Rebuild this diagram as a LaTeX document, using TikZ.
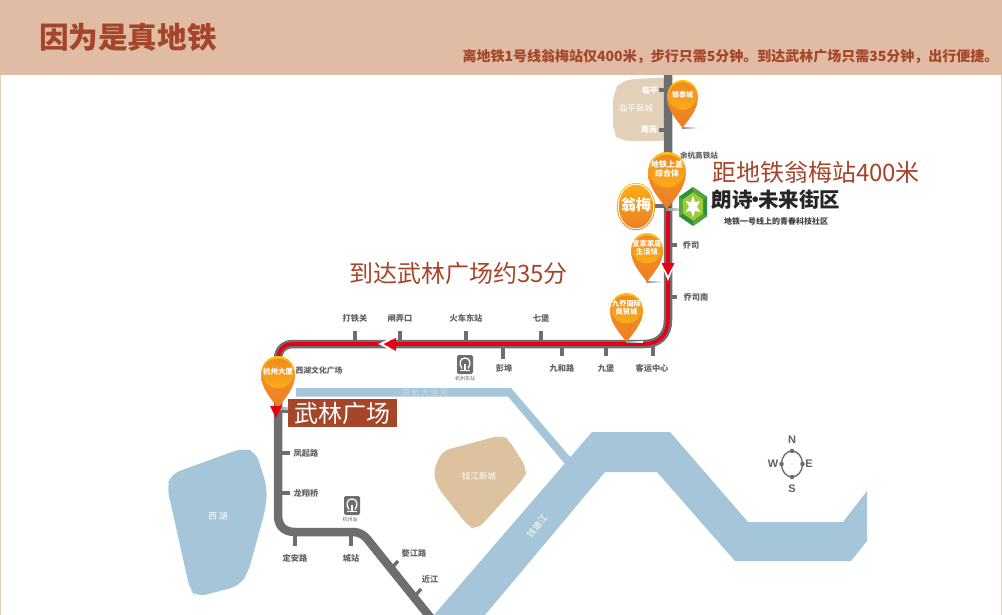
\documentclass[tikz,border=0pt]{standalone}
\usepackage{fontspec}
\setmainfont{Noto Sans CJK SC}
\newfontfamily\latinbold[Scale=1]{Liberation Sans}
\usetikzlibrary{calc}
\definecolor{hdr}{HTML}{DFBCA3}
\definecolor{brick}{HTML}{A5452A}
\definecolor{water}{HTML}{A5C6D8}
\definecolor{sand}{HTML}{DCC29F}
\definecolor{sandl}{HTML}{E2D0B8}
\definecolor{trk}{HTML}{6D6E71}
\definecolor{lbl}{HTML}{626264}
\definecolor{redl}{HTML}{E60012}
\definecolor{orgA}{HTML}{FFC20E}
\definecolor{orgB}{HTML}{F08A24}
\definecolor{orgC}{HTML}{FBAE17}
\definecolor{orgD}{HTML}{EE7E23}
\definecolor{hexA}{HTML}{2F8F3A}
\definecolor{hexB}{HTML}{55A83C}
\definecolor{hexC}{HTML}{9CCB3B}
\newcommand{\fsz}[1]{\fontsize{#1pt}{#1pt}\selectfont}
\tikzset{
  track/.style={draw=trk,line width=8.5pt,line join=round},
  redline/.style={draw=redl,line width=3.6pt,line join=round},
  tick/.style={draw=trk,line width=3.4pt},
  stlabel/.style={inner sep=0pt,text=lbl,font=\bfseries\fsz{8.2}},
  mapw/.style={inner sep=0pt,text=white,font=\fsz{8.6}},
  pintext/.style={inner sep=0pt,text=white,font=\bfseries\fsz{#1},align=center},
  brickbig/.style={inner sep=0pt,text=brick,font=\fsz{24}},
  iconlabel/.style={inner sep=0pt,text=lbl,font=\fsz{5}},
  compass/.style={inner sep=0pt,text=lbl,font=\latinbold\bfseries\fsz{11}},
}
% name, cx, top, width, height, font size, text
\newcommand{\pinmark}[7]{%
  \begin{scope}[shift={(#2,#3)},x=#4pt,y=-#5pt]
    \shade[left color=black!45,right color=white] (-0.02,0.985) rectangle (0.5,1.02);
    \shade[top color=orgA,bottom color=orgD,middle color=orgB]
      (0,1) .. controls (-0.2,0.82) and (-0.5,0.62) .. (-0.5,0.36)
      .. controls (-0.5,0.15) and (-0.28,0) .. (0,0)
      .. controls (0.28,0) and (0.5,0.15) .. (0.5,0.36)
      .. controls (0.5,0.62) and (0.2,0.82) .. (0,1) -- cycle;
    \shade[top color=orgB,bottom color=orgC]
      (-0.45,0.34) .. controls (-0.45,0.17) and (-0.25,0.05) .. (0,0.05)
      .. controls (0.25,0.05) and (0.45,0.17) .. (0.45,0.34)
      .. controls (0.45,0.5) and (0.25,0.62) .. (0,0.62)
      .. controls (-0.25,0.62) and (-0.45,0.5) .. (-0.45,0.34) -- cycle;
    \node[pintext=#6] (#1) at (0,0.30) {#7};
  \end{scope}}
\newcommand{\railicon}[2]{%
  \begin{scope}[shift={(#1,#2)}]
    \fill[rounded corners=1.6pt,fill=trk] (-8,-9.5) rectangle (8,9.5);
    \draw[white,line width=1.3pt] (-3,4) .. controls (-6.5,-1) and (-5,-6.5) .. (0,-6.5)
      .. controls (5,-6.5) and (6.5,-1) .. (3,4);
    \draw[white,line width=1pt] (-5,6) -- (5,6);
    \fill[white] (-1.4,-1) rectangle (1.4,5);
  \end{scope}}
\begin{document}
\begin{tikzpicture}[x=1pt,y=-1pt]
\useasboundingbox (0,0) rectangle (1002,615);
\fill[white] (0,0) rectangle (1002,615);
\fill[sandl] (0,0) rectangle (1.2,615);
\fill[sandl] (1000.5,0) rectangle (1002,615);

% water
\fill[water,rounded corners=9pt] (167,487) -- (171,474) -- (243,448) -- (256,452) -- (267,487) -- (266,507) -- (248,573) -- (239,586) -- (197,597) -- (190,590) -- cycle;
\fill[water] (296,388) -- (511,388) -- (571,458) -- (565,464) -- (508,396.5) -- (296,396.5) -- cycle;
\fill[water] (592,432) -- (670,432) -- (748,522) -- (843,522) -- (867,491) -- (867,541) -- (851,561) -- (735,561) -- (657,472) -- (605,472) -- (485,615) -- (434,615) -- cycle;

% sand areas
\fill[sand,rounded corners=8pt] (433,472) -- (442,451) -- (502,435) -- (509,440) -- (527,469) -- (525,477) -- (477,530) -- (468,526) -- (438,488) -- cycle;
\fill[sandl,rounded corners=10pt] (613,92) -- (622,80) -- (670,77) -- (670,141) -- (620,141) -- (613,133) -- cycle;

% map labels
\node[mapw,font=\fsz{8.8}] (xihu) at (218,516) {西\,湖};
\node[mapw,opacity=.45,font=\fsz{8}] (canal) at (425,392) {京\,杭\,大\,运\,河};
\node[mapw] (qjxc) at (479,476) {钱江新城};
\node[mapw,rotate=50] (qtj) at (537,526) {钱塘江};
\node[mapw,font=\fsz{8.6}] (lpxc) at (636,108) {临平新城};
\node[mapw,font=\bfseries\fsz{8}] (lp) at (650,90) {临平};
\node[mapw,font=\bfseries\fsz{8}] (ny) at (649,130) {南苑};

% ticks
\draw[tick] (659,90) -- (668,90);
\draw[tick] (659,130) -- (668,130);
\draw[tick] (655,206) -- (668,206);
\draw[tick] (668,245) -- (677,245);
\draw[tick] (668,297) -- (677,297);
\draw[tick] (653,344) -- (653,356);
\draw[tick] (606,344) -- (606,356);
\draw[tick] (562,344) -- (562,356);
\draw[tick] (503,344) -- (503,359);
\draw[tick] (541,331) -- (541,344);
\draw[tick] (466,331) -- (466,344);
\draw[tick] (400,331) -- (400,344);
\draw[tick] (355,331) -- (355,344);
\draw[tick] (278,411) -- (290,411);
\draw[tick] (278,453) -- (290,453);
\draw[tick] (278,493) -- (290,493);
\draw[tick] (295,532) -- (295,546);
\draw[tick] (351,532) -- (351,546);
\draw[tick] (391,569) -- (398,561);
\draw[tick] (415,596) -- (421,589);

% track
\coordinate (trktop) at (668,75);
\coordinate (trkend) at (434,622);
\draw[track] (trktop) -- (668,320) .. controls (668,335) and (659,344) .. (644,344) -- (293,344) .. controls (284,344) and (278,350) .. (278,359) -- (278,515) .. controls (278,526) and (284,532) .. (295,532) -- (352,532) .. controls (360,532) and (364,535) .. (368,540) -- (trkend);
\coordinate (redstart) at (668,205);
\coordinate (redend) at (278,366);
\draw[redline] (redstart) -- (668,320) .. controls (668,335) and (659,344) .. (644,344) -- (293,344) .. controls (284,344) and (278,350) .. (278,359) -- (redend);

% station labels
\node[stlabel,font=\bfseries\fsz{7.6}] (yuhang) at (699,156) {余杭高铁站};
\node[stlabel] (qs) at (691,245) {乔司};
\node[stlabel] (qsn) at (696,297) {乔司南};
\node[stlabel] (kyzx) at (652,368) {客运中心};
\node[stlabel] (jb) at (606,368) {九堡};
\node[stlabel] (jhl) at (562,368) {九和路};
\node[stlabel] (yb) at (504,368) {彭埠};
\node[stlabel] (qb) at (541,318) {七堡};
\node[stlabel] (hcdz) at (466,318) {火车东站};
\node[stlabel] (znk) at (400,318) {闸弄口};
\node[stlabel] (dtg) at (355,318) {打铁关};
\node[stlabel,font=\bfseries\fsz{7.8}] (xhwh) at (319,371) {西湖文化广场};
\node[stlabel] (fql) at (306,453) {凤起路};
\node[stlabel] (lxq) at (306,493) {龙翔桥};
\node[stlabel] (dal) at (295,558) {定安路};
\node[stlabel] (cz) at (351,558) {城站};
\node[stlabel] (wjl) at (414,553) {婺江路};
\node[stlabel] (jj) at (430,579) {近江};

% railway icons
\railicon{465}{364.5}
\node[iconlabel] (hzdz) at (465,379) {杭州东站};
\railicon{352}{505.5}
\node[iconlabel] (hzz) at (350,520) {杭州站};

% pins
\pinmark{yt}{682.5}{80}{31}{48}{7}{银泰城}
\pinmark{dtsg}{667}{152}{38}{57}{8}{地铁上盖\\[1.5pt]综合体}
\pinmark{yjjj}{647}{233}{32}{49}{7.2}{宜家家居\\[1.5pt]生活馆}
\pinmark{jq}{626.5}{293}{33}{49}{7.2}{九乔国际\\[1.5pt]商贸城}
\pinmark{hzds}{278}{356}{34}{52}{7.5}{杭州大厦}

% Wengmei badge
\shade[top color=orgA,bottom color=orgD] (636,206.5) ellipse [x radius=19.2pt,y radius=23.7pt];
\fill[white] (636,206.5) ellipse [x radius=18.2pt,y radius=22.7pt];
\shade[top color=orgC,bottom color=orgD] (636,206.5) ellipse [x radius=17.2pt,y radius=21.7pt];
\node[pintext=15] (wm) at (636,205) {翁梅};

% arrows
\fill[white] (662,266) -- (674,266) -- (668,281) -- cycle;
\fill[redl] (661.5,263) -- (674.5,263) -- (668,275.5) -- cycle;
\fill[white] (378,344) -- (390,338.5) -- (390,349.5) -- cycle;
\fill[redl] (383.5,344) -- (396,338) -- (396,351) -- cycle;
\fill[redl] (270,406) -- (282,406) -- (276,418) -- cycle;

% Wulin box
\node[fill=brick,text=white,inner sep=0pt,minimum width=109pt,minimum height=28pt,font=\fsz{24}] (wulin) at (342.5,413) {武林广场};

% logo
\begin{scope}[shift={(693,206.5)},x=14pt,y=-19.5pt]
  \fill[hexA] (0,-1) -- (1,-.5) -- (1,.5) -- (0,1) -- (-1,.5) -- (-1,-.5) -- cycle;
  \fill[hexB] (0,-1) -- (1,-.5) -- (0,0) -- cycle;
  \fill[hexB] (1,.5) -- (0,1) -- (0,0) -- cycle;
  \fill[hexB] (-1,.5) -- (-1,-.5) -- (0,0) -- cycle;
  \fill[hexC] (0,-.72) -- (.72,-.36) -- (.72,.36) -- (0,.72) -- (-.72,.36) -- (-.72,-.36) -- cycle;
  \fill[white] (0,.55) -- (.14,.22) -- (.52,.28) -- (.28,0) -- (.52,-.28) -- (.14,-.22) -- (0,-.55) -- (-.14,-.22) -- (-.52,-.28) -- (-.28,0) -- (-.52,.28) -- (-.14,.22) -- cycle;
\end{scope}
\node[inner sep=0pt,anchor=center,text=black!85,font=\bfseries\fsz{20.5}] (brand) at (776,200) {朗诗\hspace{-7.5pt}·\hspace{-7.5pt}未来街区};
\node[inner sep=0pt,text=black!75,font=\bfseries\fsz{8}] (slogan) at (776,221) {地铁一号线上的青春科技社区};

% callouts
\node[brickbig] (dist) at (816,172) {距地铁翁梅站400米};
\node[brickbig] (time) at (458.5,273) {到达武林广场约35分};

% compass
\draw[draw=trk,line width=1.4pt] (792,464) ellipse [x radius=10.5pt,y radius=13pt];
\fill[trk] (792,451) circle (2.3pt) (792,477) circle (2.3pt) (781.5,464) circle (2.3pt) (802.5,464) circle (2.3pt);
\node[compass] (cn) at (792,440) {N};
\node[compass] (cs) at (792,489) {S};
\node[compass] (cw) at (773,464) {W};
\node[compass] (ce) at (809,464) {E};

% header
\fill[hdr] (0,0) rectangle (1002,75);
\node[inner sep=0pt,text=brick,font=\bfseries\fsz{29.6}] (title) at (128,37) {因为是真地铁};
\node[inner sep=0pt,text=brick,font=\bfseries\fsz{14}] (sub) at (730.5,57) {离地铁1号线翁梅站仅400米，步行只需5分钟。到达武林广场只需35分钟，出行便捷。};
\end{tikzpicture}
\end{document}
